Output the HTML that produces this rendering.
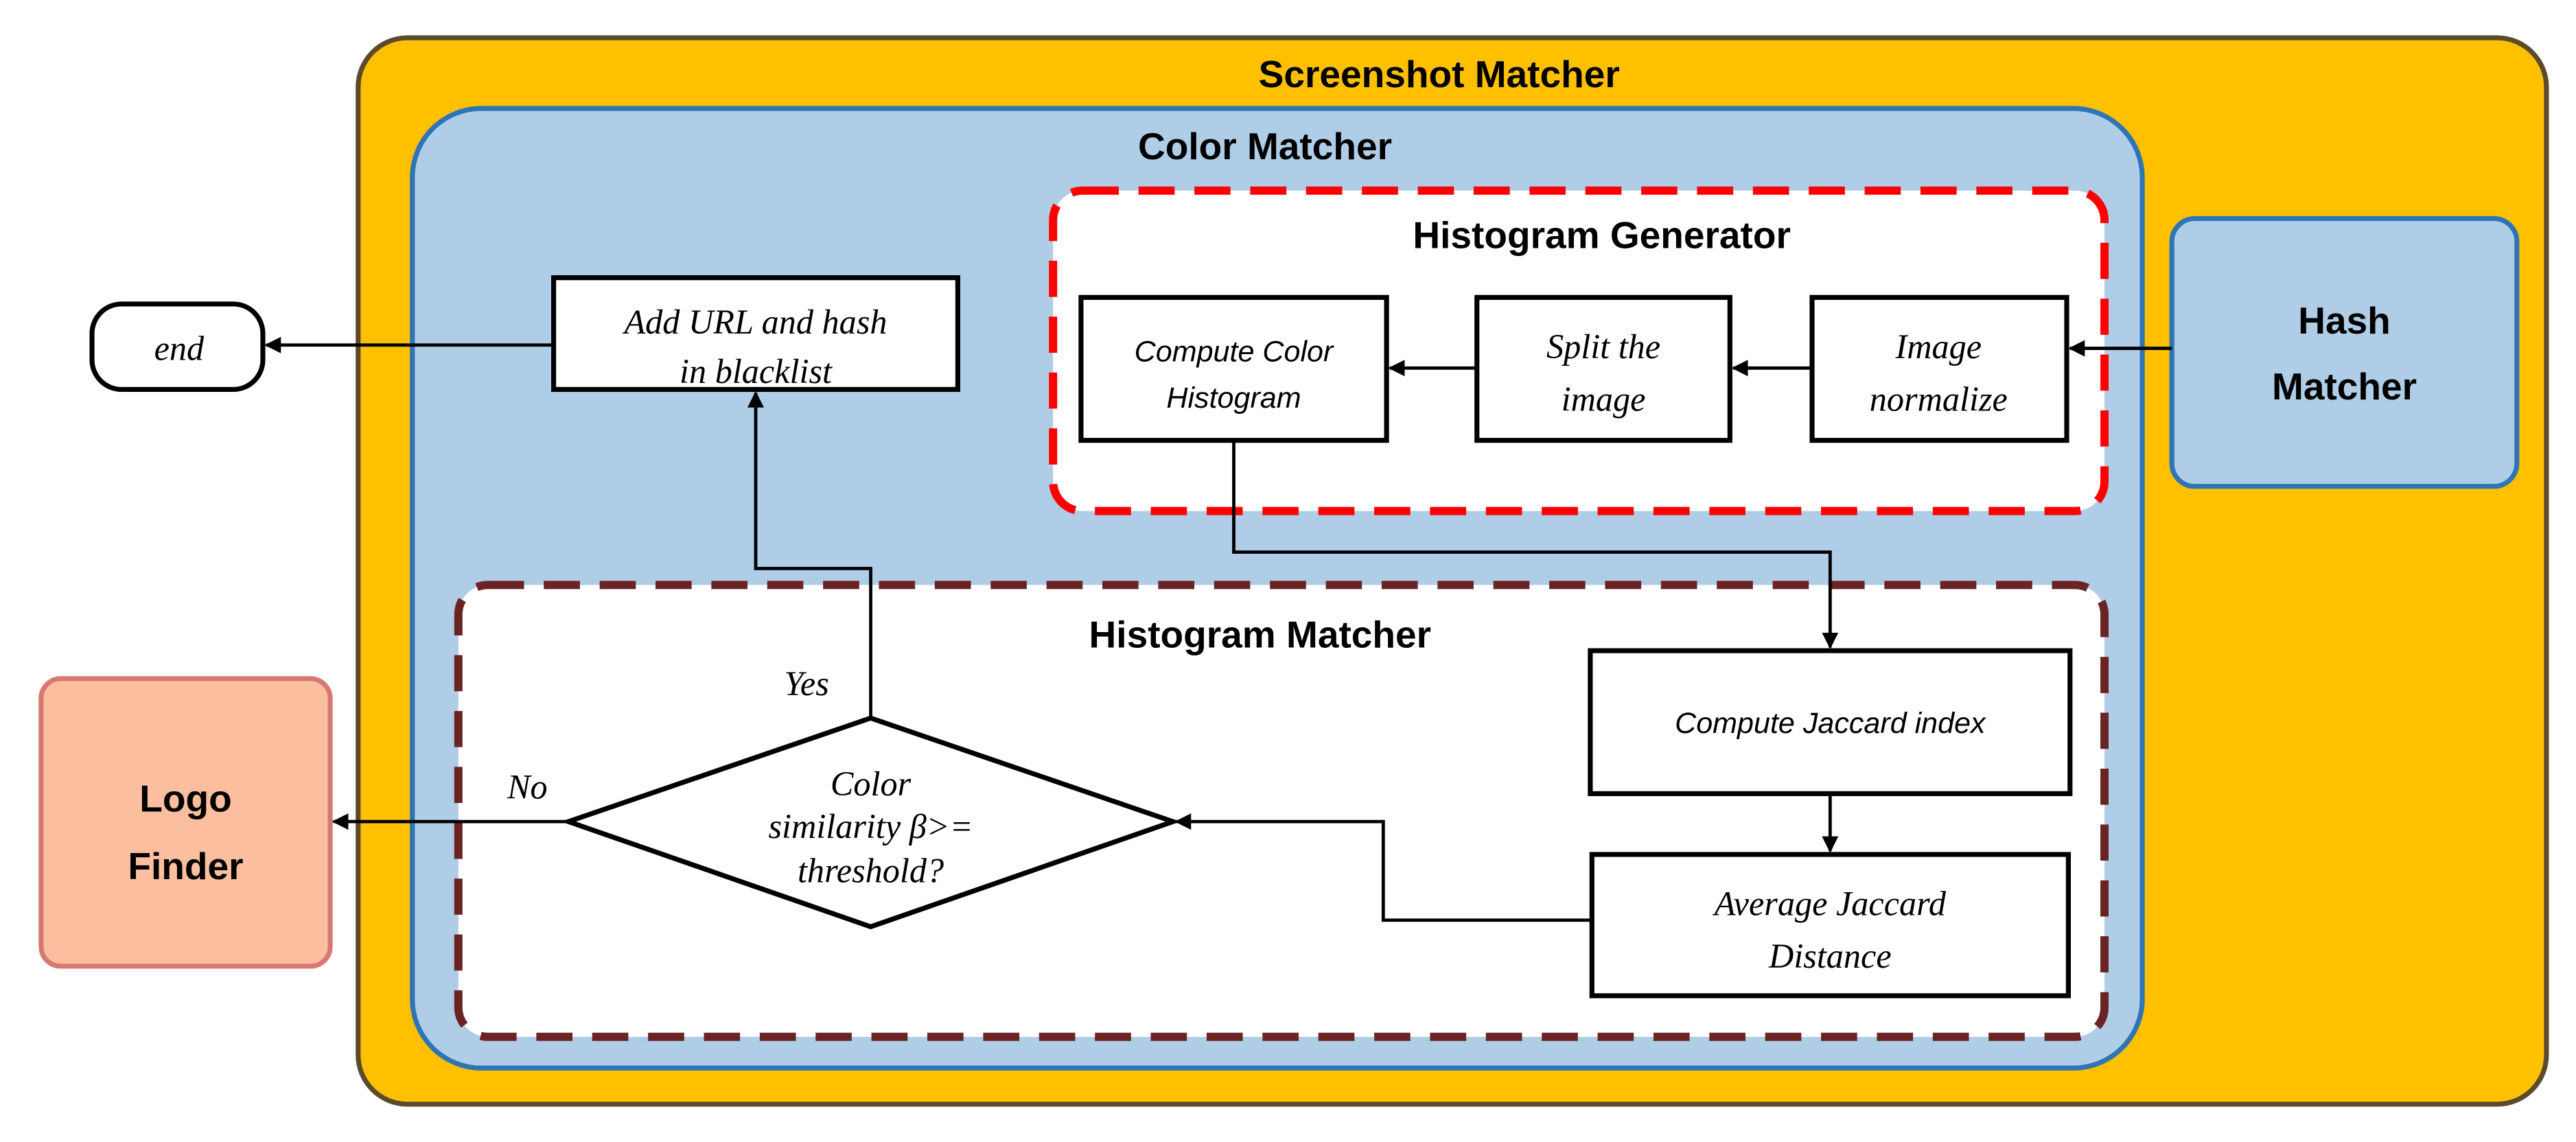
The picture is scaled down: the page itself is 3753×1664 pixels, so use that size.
<!DOCTYPE html>
<html><head><meta charset="utf-8"><style>
html,body{margin:0;padding:0;background:#fff;}
svg{display:block;}
.t{font-family:"Liberation Sans",sans-serif;font-weight:bold;font-size:23px;text-anchor:middle;fill:#000;}
.s{font-family:"Liberation Serif",serif;font-style:italic;font-size:21px;text-anchor:middle;fill:#000;}
.a{font-family:"Liberation Sans",sans-serif;font-style:italic;font-size:18px;text-anchor:middle;fill:#000;}
</style></head><body>
<svg width="3753" height="1664" viewBox="0 0 1568 695" preserveAspectRatio="none" xmlns="http://www.w3.org/2000/svg">
<defs><marker id="ar" markerWidth="10" markerHeight="10" refX="9" refY="5" orient="auto" markerUnits="userSpaceOnUse"><path d="M0,0 L10,5 L0,10 z" fill="#000"/></marker></defs>
<rect x="218" y="23" width="1332" height="649" rx="30" fill="#FFC000" stroke="#5b4a2c" stroke-width="3"/>
<text class="t" x="876" y="53">Screenshot Matcher</text>
<rect x="251" y="66" width="1053" height="584" rx="42" fill="#AFCDE7" stroke="#2E75B6" stroke-width="3"/>
<text class="t" x="770" y="97">Color Matcher</text>
<rect x="641" y="116" width="640" height="195" rx="18" fill="#fff" stroke="#FF0000" stroke-width="5" stroke-dasharray="22,12"/>
<text class="t" x="975" y="151">Histogram Generator</text>
<rect x="279" y="356" width="1002" height="275" rx="18" fill="#fff" stroke="#6B2424" stroke-width="5" stroke-dasharray="22,12"/>
<text class="t" x="767" y="394">Histogram Matcher</text>
<rect x="1322" y="133" width="210" height="163" rx="14" fill="#AFCDE7" stroke="#2E75B6" stroke-width="3"/>
<text class="t" x="1427" y="203" font-size="26">Hash</text>
<text class="t" x="1427" y="243" font-size="26">Matcher</text>
<rect x="25" y="413" width="176" height="175" rx="12" fill="#FBBE9E" stroke="#D77873" stroke-width="3"/>
<text class="t" x="113" y="494" font-size="26">Logo</text>
<text class="t" x="113" y="535" font-size="26">Finder</text>
<g fill="#fff" stroke="#000" stroke-width="3">
<rect x="658" y="181" width="186" height="87"/>
<rect x="899" y="181" width="154" height="87"/>
<rect x="1103" y="181" width="155" height="87"/>
<rect x="337" y="169" width="246" height="68"/>
<rect x="56" y="185" width="104" height="52" rx="18"/>
<rect x="968" y="396" width="292" height="87"/>
<rect x="969" y="520" width="290" height="86"/>
<polygon points="346,500 530,437 714,500 530,564"/>
</g>
<text class="a" x="751" y="220">Compute Color</text>
<text class="a" x="751" y="248">Histogram</text>
<text class="s" x="976" y="218">Split the</text>
<text class="s" x="976" y="250">image</text>
<text class="s" x="1180" y="218">Image</text>
<text class="s" x="1180" y="250">normalize</text>
<text class="s" x="460" y="203">Add URL and hash</text>
<text class="s" x="460" y="233">in blacklist</text>
<text class="s" x="109" y="219">end</text>
<text class="a" x="1114" y="446" font-size="21">Compute Jaccard index</text>
<text class="s" x="1114" y="557">Average Jaccard</text>
<text class="s" x="1114" y="589">Distance</text>
<text class="s" x="530" y="484" font-size="19">Color</text>
<text class="s" x="530" y="510" font-size="19">similarity β&gt;=</text>
<text class="s" x="530" y="537" font-size="19">threshold?</text>
<text class="s" x="491" y="423" font-size="22">Yes</text>
<text class="s" x="321" y="486" font-size="22">No</text>
<g fill="none" stroke="#000" stroke-width="2" marker-end="url(#ar)">
<line x1="1322" y1="212" x2="1260" y2="212"/>
<line x1="1103" y1="224" x2="1055" y2="224"/>
<line x1="899" y1="224" x2="846" y2="224"/>
<line x1="337" y1="210" x2="162" y2="210"/>
<polyline points="751,268 751,336 1114,336 1114,394"/>
<line x1="1114" y1="483" x2="1114" y2="518"/>
<polyline points="969,560 842,560 842,500 716,500"/>
<polyline points="530,437 530,346 460,346 460,239"/>
<line x1="346" y1="500" x2="203" y2="500"/>
</g>
</svg>
</body></html>
